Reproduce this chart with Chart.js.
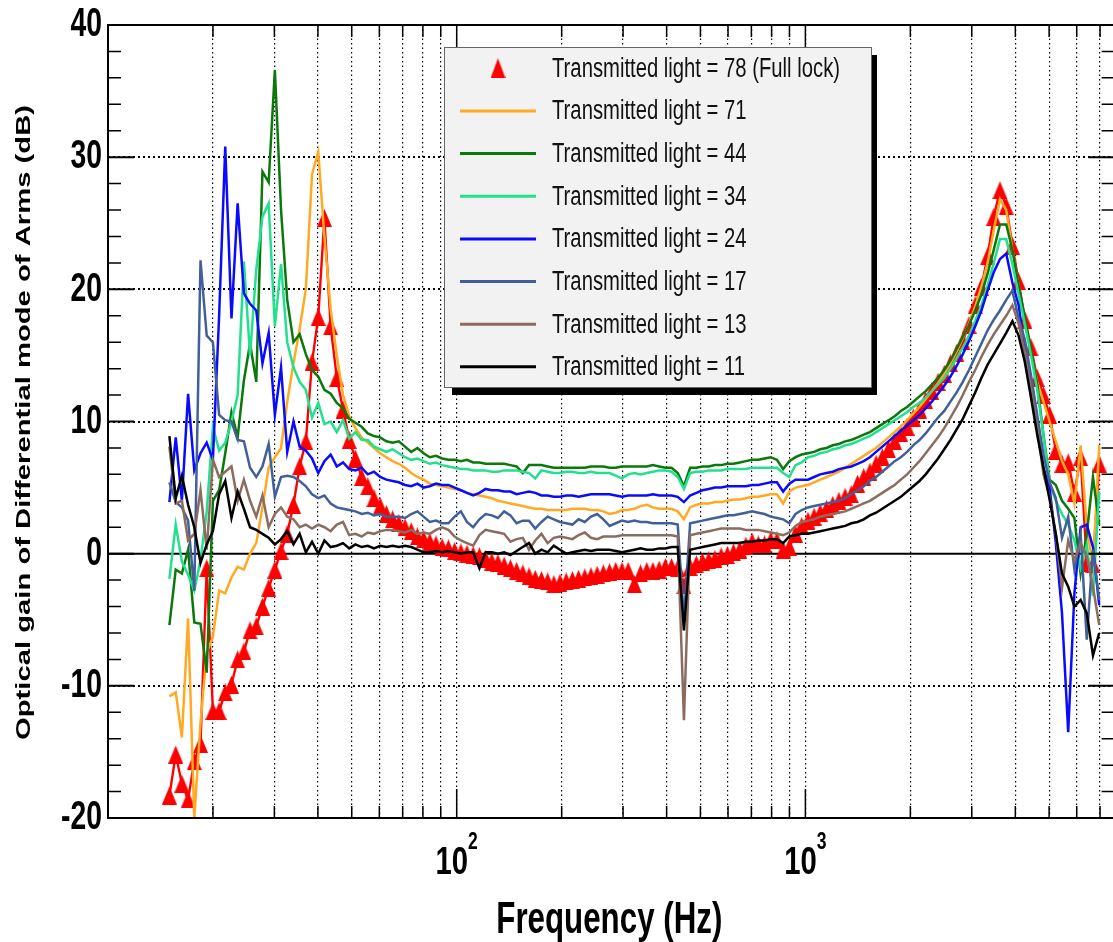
<!DOCTYPE html>
<html>
<head>
<meta charset="utf-8">
<script src="https://cdn.jsdelivr.net/npm/chart.js@4.4.1/dist/chart.umd.min.js"></script>
<style>
  html, body { margin: 0; padding: 0; background: #fff; overflow: hidden; }
  canvas { display: block; }
</style>
</head>
<body>
<canvas id="gainChart" width="1125" height="942"></canvas>
<script>
// measurement frequencies (Hz)
const freqHz = [
  15.0, 15.64, 16.29, 16.97, 17.68, 18.42, 19.19, 19.99, 20.83, 21.69,
  22.60, 23.54, 24.53, 25.55, 26.62, 27.73, 28.89, 30.10, 31.35, 32.66,
  34.03, 35.45, 36.93, 38.47, 40.08, 41.75, 43.50, 45.31, 47.21, 49.18,
  51.23, 53.37, 55.60, 57.92, 60.34, 62.86, 65.49, 68.23, 71.10, 74.07,
  77.15, 80.36, 83.72, 87.21, 90.86, 94.67, 98.63, 102.8, 107.0, 111.5,
  116.2, 121.0, 126.1, 131.3, 136.8, 142.6, 148.5, 154.7, 161.2, 168.0,
  175.0, 182.3, 189.9, 197.8, 206.1, 214.7, 223.6, 233.0, 242.7, 252.8,
  263.4, 274.4, 285.8, 297.8, 310.2, 323.2, 336.7, 350.8, 365.4, 380.7,
  396.6, 413.2, 430.4, 448.4, 467.1, 486.7, 507.0, 528.2, 550.3, 573.3,
  597.2, 622.2, 648.2, 675.3, 703.5, 732.9, 763.5, 795.4, 828.7, 863.3,
  899.4, 937.0, 976.1, 1017, 1059, 1103, 1150, 1198, 1248, 1300,
  1354, 1411, 1470, 1531, 1595, 1662, 1731, 1803, 1878, 1957,
  2039, 2124, 2213, 2305, 2401, 2502, 2606, 2715, 2828, 2946,
  3069, 3198, 3331, 3470, 3615, 3767, 3924, 4088, 4259, 4437,
  4622, 4815, 5016, 5226, 5444, 5672, 5909, 6156, 6412, 6680,
  6960
];

// optical gain (dB) for each transmitted light level
const gain78 = [
  -18.3, -15.2, -17.4, -18.6, -15.7, -14.4, -1.1, -11.9, -11.9, -10.5,
  -9.9, -8.0, -7.4, -5.8, -5.5, -4.0, -2.6, -1.2, 0.2, 1.5,
  3.7, 6.6, 8.5, 14.5, 17.9, 25.4, 17.2, 13.3, 10.9, 8.6,
  7.2, 5.8, 5.1, 4.2, 3.6, 3.0, 2.6, 2.3, 2.0, 1.7,
  1.3, 1.1, 0.9, 0.7, 0.5, 0.4, 0.2, 0.1, 0.0, -0.1,
  -0.2, -0.4, -0.6, -0.7, -0.9, -1.1, -1.3, -1.5, -1.7, -1.9,
  -2.0, -2.1, -2.3, -2.2, -2.1, -2.0, -1.9, -1.8, -1.7, -1.6,
  -1.5, -1.4, -1.3, -1.3, -1.3, -2.3, -1.5, -1.3, -1.3, -1.2,
  -1.0, -1.0, -1.1, -2.4, -1.0, -0.8, -0.6, -0.5, -0.4, -0.2,
  -0.1, 0.1, 0.3, 0.6, 0.9, 0.7, 0.7, 1.0, 1.0, 0.3,
  0.5, 1.5, 2.1, 2.5, 2.8, 3.1, 3.4, 3.7, 4.0, 4.3,
  4.5, 5.3, 5.8, 6.2, 6.8, 7.3, 7.9, 8.5, 9.1, 9.6,
  10.3, 10.9, 11.6, 12.3, 13.0, 13.6, 14.4, 15.2, 16.1, 17.3,
  18.8, 20.2, 22.5, 25.5, 27.5, 26.3, 23.3, 20.6, 17.7, 15.6,
  13.3, 12.0, 10.5, 7.8, 6.8, 6.9, 4.6, 7.3, -0.7, -0.8,
  6.8
];
const gain71 = [
  -10.8, -10.5, -13.9, -4.9, -20.0, -12.8, -7.5, -6.3, -2.8, -3.0,
  -1.8, -1.0, -1.2, 0.0, 0.8, 3.5, 6.5, 7.3, 8.0, 11.5,
  14.4, 17.0, 20.0, 28.7, 30.4, 24.0, 18.5, 15.0, 12.0, 10.4,
  9.5, 8.8, 8.4, 8.0, 7.6, 7.3, 7.0, 6.8, 6.5, 6.1,
  5.8, 5.6, 5.3, 5.2, 5.1, 5.0, 4.9, 4.8, 4.6, 4.5,
  4.4, 4.3, 4.2, 4.0, 3.9, 3.8, 3.7, 3.6, 3.5, 3.4,
  3.4, 3.3, 3.3, 3.3, 3.3, 3.4, 3.4, 3.4, 3.3, 3.3,
  3.2, 3.0, 3.1, 3.3, 3.3, 3.4, 3.6, 3.7, 3.5, 3.4,
  3.4, 3.4, 3.2, 2.6, 3.5, 3.7, 3.8, 3.8, 3.9, 3.9,
  4.0, 4.1, 4.1, 4.2, 4.3, 4.3, 4.4, 4.5, 4.5, 3.8,
  4.7, 5.0, 5.1, 5.2, 5.4, 5.6, 5.8, 6.0, 6.2, 6.5,
  6.8, 7.1, 7.4, 7.7, 8.0, 8.4, 8.8, 9.2, 9.6, 10.1,
  10.6, 11.1, 11.7, 12.3, 12.9, 13.6, 14.4, 15.3, 16.3, 17.4,
  18.7, 20.2, 22.0, 24.5, 26.8, 26.0, 23.0, 20.2, 17.4, 15.2,
  13.0, 11.5, 10.0, 8.5, 7.0, 6.0, 3.8, 8.2, 2.0, -1.0,
  8.2
];
const gain44 = [
  -5.4, -1.2, -1.5, 0.3, -5.2, -5.3, -9.0, 4.0, 4.8, 7.6,
  10.7, 8.8, 13.1, 15.9, 13.0, 28.9, 28.1, 36.6, 26.0, 19.2,
  16.0, 16.6, 15.1, 13.9, 13.4, 12.4, 12.1, 11.4, 11.0, 10.2,
  9.9, 9.6, 9.1, 8.9, 8.8, 8.5, 8.4, 8.5, 8.1, 7.7,
  8.0, 7.6, 7.3, 7.4, 7.2, 7.1, 7.1, 7.0, 7.1, 6.9,
  6.9, 6.8, 6.8, 6.8, 6.8, 6.7, 6.6, 6.1, 6.7, 6.7,
  6.7, 6.6, 6.5, 6.5, 6.5, 6.5, 6.5, 6.5, 6.6, 6.6,
  6.6, 6.5, 6.5, 6.6, 6.6, 6.6, 6.6, 6.6, 6.7, 6.6,
  6.5, 6.5, 6.1, 5.1, 6.5, 6.5, 6.6, 6.6, 6.7, 6.7,
  6.8, 6.8, 6.9, 7.0, 7.1, 7.1, 7.2, 7.3, 7.1, 6.4,
  7.0, 7.3, 7.5, 7.6, 7.7, 7.9, 8.0, 8.2, 8.3, 8.5,
  8.6, 8.8, 9.0, 9.2, 9.5, 9.8, 10.1, 10.4, 10.8, 11.1,
  11.5, 11.9, 12.3, 12.8, 13.3, 13.9, 14.6, 15.5, 16.4, 17.3,
  18.4, 19.6, 21.2, 23.0, 24.9, 24.9, 23.0, 20.3, 17.9, 15.4,
  12.9, 9.0, 5.6, 5.2, 4.0, 3.4, 2.7, -1.5, 1.5, 5.8,
  2.2
];
const gain34 = [
  -1.9, 2.2, -0.6, -1.6, -2.8, -0.5, 3.2, 9.6, 7.8, 8.4,
  10.0, 12.0, 22.1, 15.0, 21.5, 25.5, 26.5, 17.2, 21.9, 16.0,
  14.1, 13.0, 12.4, 10.3, 11.4, 9.8, 10.0, 9.2, 10.1, 8.7,
  9.2, 8.6, 8.6, 8.1, 7.9, 7.7, 7.9, 7.6, 7.3, 7.1,
  7.2, 7.0, 6.8, 6.9, 6.7, 6.6, 6.5, 6.4, 6.4, 6.3,
  6.3, 6.3, 6.2, 6.2, 6.3, 6.3, 6.3, 6.2, 6.1, 5.7,
  6.3, 6.2, 6.1, 6.1, 6.2, 6.2, 6.1, 6.1, 6.2, 6.1,
  6.1, 6.1, 5.9, 5.7, 6.0, 6.1, 6.0, 6.1, 6.2, 6.3,
  6.3, 6.2, 5.8, 4.9, 6.1, 6.2, 6.2, 6.3, 6.3, 6.3,
  6.4, 6.4, 6.4, 6.4, 6.5, 6.5, 6.5, 6.5, 6.5, 6.1,
  5.8, 6.7, 6.9, 7.3, 7.4, 7.6, 7.7, 7.9, 8.0, 8.2,
  8.3, 8.5, 8.7, 8.9, 9.2, 9.5, 9.8, 10.1, 10.4, 10.7,
  11.1, 11.4, 11.8, 12.3, 12.8, 13.3, 14.0, 14.8, 15.6, 16.5,
  17.6, 18.8, 20.3, 22.0, 23.8, 23.8, 21.9, 19.6, 17.4, 15.0,
  12.4, 9.0, 5.3, 4.0, 3.0, 2.2, 1.0, -1.1, 0.7, -3.2,
  4.7
];
const gain24 = [
  3.9, 8.8, 4.0, 12.1, 6.3, 7.6, 8.4, 7.1, 18.0, 30.8,
  17.8, 26.5, 19.7, 18.9, 18.4, 14.4, 16.7, 10.5, 14.1, 7.7,
  10.0, 8.1, 7.8, 7.2, 6.1, 7.0, 7.5, 6.6, 6.9, 6.4,
  6.3, 6.5, 6.0, 6.2, 5.8, 5.6, 5.5, 5.4, 5.2, 5.1,
  5.3, 5.0, 5.1, 5.3, 5.2, 5.2, 5.0, 4.8, 4.6, 4.4,
  4.6, 4.9, 4.8, 4.8, 4.7, 4.7, 4.5, 4.6, 4.7, 4.6,
  4.4, 4.4, 4.3, 4.3, 4.4, 4.4, 4.3, 4.4, 4.5, 4.5,
  4.5, 4.5, 4.4, 4.3, 4.4, 4.4, 4.4, 4.4, 4.5, 4.4,
  4.4, 4.4, 4.3, 3.9, 4.4, 4.6, 4.8, 4.9, 5.0, 5.0,
  5.1, 5.1, 5.1, 5.1, 5.2, 5.2, 5.3, 5.4, 5.4, 4.7,
  5.3, 5.6, 5.6, 5.6, 5.8, 6.0, 6.1, 6.2, 6.4, 6.5,
  6.6, 6.8, 7.0, 7.3, 7.7, 8.1, 8.5, 8.9, 9.3, 9.7,
  10.1, 10.5, 11.0, 11.5, 12.1, 12.7, 13.4, 14.2, 15.1, 16.1,
  17.2, 18.4, 19.9, 21.3, 22.3, 22.7, 20.5, 18.8, 15.5, 12.8,
  9.8, 6.5, 5.0, 0.8, -4.5, -13.5, -3.0, 2.0, 2.2, 0.5,
  -3.9
];
const gain17 = [
  5.4, 3.9, 3.5, 2.5, -2.8, 22.2, 16.5, 16.0, 10.5, 10.1,
  10.0, 8.6, 8.5, 6.5, 5.8, 6.6, 8.3, 4.3, 5.8, 5.9,
  5.8, 5.5, 5.1, 4.5, 4.2, 4.4, 3.8, 3.5, 3.4, 3.3,
  3.2, 3.0, 3.1, 2.9, 3.0, 2.8, 2.8, 2.8, 2.7, 3.0,
  3.2, 2.8, 2.4, 2.5, 2.3, 2.3, 2.8, 3.2, 2.4, 2.0,
  2.6, 3.0, 2.9, 2.7, 3.2, 2.9, 2.3, 2.5, 2.5, 1.9,
  2.4, 2.8, 2.6, 2.4, 2.3, 2.2, 2.6, 2.4, 2.8, 3.0,
  2.6, 2.1, 2.3, 2.5, 2.4, 2.5, 2.4, 2.4, 2.3, 2.3,
  2.3, 2.3, 2.2, -5.0, 2.3, 2.4, 2.5, 2.6, 2.7, 2.8,
  2.9, 2.9, 3.0, 3.1, 3.2, 3.1, 3.0, 2.8, 2.7, 2.6,
  2.3, 3.0, 3.3, 3.5, 3.6, 3.7, 3.8, 3.9, 4.0, 4.2,
  4.5, 4.8, 5.1, 5.5, 5.8, 6.2, 6.6, 7.0, 7.3, 7.7,
  8.2, 8.6, 9.1, 9.7, 10.3, 10.8, 11.5, 12.2, 13.0, 13.9,
  14.9, 15.9, 16.9, 17.7, 18.4, 19.2, 19.9, 17.8, 16.2, 13.5,
  10.5, 7.5, 5.4, 4.2, 1.2, 2.8, -1.2, 1.5, -6.5, 0.3,
  -3.5
];
const gain13 = [
  8.1, 3.8, 4.0, 1.0, 1.5, 4.8, 0.3, 7.1, 5.8, 6.2,
  6.6, 4.0, 5.6, 4.0, 2.8, 4.4, 2.0, 3.0, 3.5, 2.8,
  2.6, 2.0, 2.2, 1.9, 2.2, 2.0, 1.7, 2.2, 2.4, 1.4,
  1.5, 1.3, 1.6, 1.5, 1.7, 1.8, 1.8, 1.7, 1.6, 1.8,
  1.5, 1.6, 1.5, 1.8, 2.0, 1.8, 1.3, 1.0, 0.8, 0.6,
  1.4, 1.8, 1.7, 1.6, 1.5, 0.9, 1.1, 1.2, 0.3, 1.0,
  1.5, 0.8, 1.2, 1.3, 1.2, 1.1, 1.4, 1.6, 1.2, 1.1,
  1.3, 1.3, 1.3, 1.4, 1.4, 1.4, 1.4, 1.4, 1.4, 1.4,
  1.4, 1.4, 1.3, -12.6, 1.4, 1.5, 1.6, 1.7, 1.8, 1.9,
  1.9, 1.9, 1.9, 1.8, 1.8, 1.8, 1.7, 1.6, 1.5, 1.4,
  1.6, 2.1, 2.4, 2.5, 2.6, 2.8, 2.9, 3.0, 3.1, 3.2,
  3.4, 3.6, 3.8, 4.0, 4.3, 4.6, 4.9, 5.2, 5.6, 6.0,
  6.5, 7.0, 7.6, 8.2, 8.8, 9.5, 10.3, 11.1, 12.0, 13.0,
  13.9, 14.9, 15.8, 16.6, 17.3, 18.0, 18.8, 17.4, 15.2, 12.5,
  9.6, 6.0, 4.3, 1.5, -2.6, 1.0, -0.5, 0.8, -0.2, -2.5,
  -5.4
];
const gain11 = [
  8.9, 4.2, 5.9, 3.7, 2.0, -0.7, 0.7, 1.7, 4.5, 5.5,
  2.7, 4.7, 3.4, 2.0, 1.8, 1.5, 1.2, 0.7, 1.1, 1.7,
  0.7, 1.5, 0.1, 0.9, 0.0, 1.0, 0.5, 0.6, 0.8, 0.4,
  0.7, 0.5, 0.6, 0.4, 0.6, 0.5, 0.6, 0.5, 0.6, 0.5,
  0.3, 0.1, 0.1, 0.2, 0.1, 0.2, 0.1, 0.0, 0.1, 0.1,
  -1.1, 0.1, 0.1, 0.0, 0.1, -0.1, 0.2, 0.5, 0.8, 0.0,
  0.3, 0.1, 0.6, 0.3, 0.0, 0.1, 0.2, 0.3, 0.2, 0.3,
  0.3, 0.3, 0.2, 0.1, 0.2, 0.3, 0.4, 0.3, 0.3, 0.4,
  0.4, 0.5, 0.5, -5.8, 0.3, 0.4, 0.5, 0.6, 0.7, 0.8,
  0.8, 0.8, 0.8, 0.9, 0.9, 1.0, 1.0, 1.1, 1.1, 0.8,
  1.3, 1.4, 1.5, 1.5, 1.6, 1.7, 1.8, 1.9, 2.0, 2.1,
  2.3, 2.4, 2.6, 2.9, 3.1, 3.4, 3.7, 4.0, 4.3, 4.7,
  5.1, 5.5, 6.0, 6.6, 7.2, 7.9, 8.6, 9.4, 10.2, 11.2,
  12.2, 13.3, 14.3, 15.1, 15.9, 16.7, 17.6, 16.5, 14.5, 11.8,
  9.0, 6.5, 4.1, 1.5, -1.5, -2.5, -4.0, -3.5, -4.5, -7.7,
  -6.0
];

const seriesLabels = [
  'Transmitted light = 78 (Full lock)',
  'Transmitted light = 71',
  'Transmitted light = 44',
  'Transmitted light = 34',
  'Transmitted light = 24',
  'Transmitted light = 17',
  'Transmitted light = 13',
  'Transmitted light = 11'
];
const seriesValues = [gain78, gain71, gain44, gain34, gain24, gain17, gain13, gain11];
const seriesColors = ['#ff0000', '#ffaa22', '#0b780b', '#22e08e', '#0a0aff', '#41609a', '#8b6d5f', '#000000'];

// axis ticks
const yTickLabels = [40, 30, 20, 10, 0, -10, -20];
const yGridTicks = [-10, 10, 20, 30];
const xGridTicks = [20, 30, 40, 50, 60, 70, 80, 90, 100, 200, 300, 400, 500, 600, 700, 800, 900,
                    1000, 2000, 3000, 4000, 5000, 6000, 7000];
const xLabelTicks = [100, 1000];
const xLabelExponents = ['2', '3'];

const FONT = '"Liberation Sans", Arial, Helvetica, sans-serif';

function triangleMarker(w, h, color) {
  const c = document.createElement('canvas');
  c.width = w;
  c.height = h;
  const g = c.getContext('2d');
  g.fillStyle = color;
  g.beginPath();
  g.moveTo(w / 2, 0);
  g.lineTo(w, h);
  g.lineTo(0, h);
  g.closePath();
  g.fill();
  return c;
}
const plotTriangle = triangleMarker(15, 18, '#ff0000');
const legendTriangle = triangleMarker(15, 20, '#ff0000');

// text squeezed horizontally, like the original stretched figure
function squeezedText(ctx, text, x, y, font, sx, align, baseline) {
  ctx.save();
  ctx.font = font;
  ctx.textAlign = align;
  ctx.textBaseline = baseline;
  ctx.translate(x, y);
  ctx.scale(sx, 1);
  ctx.fillText(text, 0, 0);
  ctx.restore();
}

const datasets = seriesValues.map((vals, i) => ({
  label: seriesLabels[i],
  data: freqHz.map((f, k) => ({ x: f, y: vals[k] })),
  borderColor: seriesColors[i],
  backgroundColor: seriesColors[i],
  borderWidth: i === 0 ? 2.4 : 2.5,
  pointRadius: i === 0 ? 8 : 0,
  pointStyle: i === 0 ? plotTriangle : 'circle',
  tension: 0,
  order: seriesValues.length - i
}));

const frameTicks = {
  id: 'frameTicks',
  beforeDatasetsDraw(chart) {
    const { ctx, chartArea: a, scales: { y } } = chart;
    const y0 = y.getPixelForValue(0);
    ctx.save();
    ctx.strokeStyle = '#000';
    ctx.lineWidth = 2;
    ctx.beginPath();
    ctx.moveTo(a.left, y0);
    ctx.lineTo(a.right, y0);
    ctx.stroke();
    ctx.restore();
  },
  afterDatasetsDraw(chart) {
    const { ctx, chartArea: a, scales: { x, y } } = chart;
    ctx.save();
    ctx.strokeStyle = '#000';
    for (let v = -20; v <= 40; v += 2) {
      const py = y.getPixelForValue(v);
      const major = v % 10 === 0;
      const len = major ? 26 : 13;
      ctx.lineWidth = major ? 2 : 1.5;
      ctx.beginPath();
      ctx.moveTo(a.left, py);
      ctx.lineTo(a.left + len, py);
      ctx.moveTo(a.right, py);
      ctx.lineTo(a.right - len, py);
      ctx.stroke();
    }
    for (const v of xGridTicks) {
      const px = x.getPixelForValue(v);
      const len = xLabelTicks.includes(v) ? 29 : 12;
      ctx.lineWidth = 1.5;
      ctx.beginPath();
      ctx.moveTo(px, a.bottom);
      ctx.lineTo(px, a.bottom - len);
      ctx.moveTo(px, a.top);
      ctx.lineTo(px, a.top + len);
      ctx.stroke();
    }
    ctx.lineWidth = 2;
    ctx.strokeRect(a.left, a.top, a.right - a.left, a.bottom - a.top);
    ctx.restore();
  }
};

const boxLegend = {
  id: 'boxLegend',
  afterDatasetsDraw(chart) {
    const ctx = chart.ctx;
    const bx = 444, by = 47, bw = 428, bh = 341;
    ctx.save();
    ctx.fillStyle = '#000';
    ctx.fillRect(bx + 8, by + 8, bw - 3, bh - 1);
    ctx.fillStyle = '#f2f2f2';
    ctx.fillRect(bx, by, bw, bh);
    ctx.strokeStyle = '#666';
    ctx.lineWidth = 1;
    ctx.strokeRect(bx + 0.5, by + 0.5, bw - 1, bh - 1);
    const font = '27px ' + FONT;
    ctx.font = font;
    const sx = 288 / ctx.measureText(seriesLabels[0]).width;
    chart.data.datasets.forEach((ds, i) => {
      const cy = 68.3 + 42.65 * i;
      if (i === 0) {
        ctx.drawImage(legendTriangle, 498 - legendTriangle.width / 2, cy - legendTriangle.height / 2);
      } else {
        ctx.strokeStyle = ds.borderColor;
        ctx.lineWidth = 3;
        ctx.beginPath();
        ctx.moveTo(460, cy);
        ctx.lineTo(536, cy);
        ctx.stroke();
      }
      ctx.fillStyle = '#111';
      squeezedText(ctx, ds.label, 552, cy + 8.5, font, sx, 'left', 'alphabetic');
    });
    ctx.restore();
  }
};

const axisText = {
  id: 'axisText',
  afterDraw(chart) {
    const { ctx, chartArea: a, scales: { x, y } } = chart;
    ctx.save();
    ctx.fillStyle = '#000';
    for (const v of yTickLabels) {
      squeezedText(ctx, String(v), a.left - 6, y.getPixelForValue(v), 'bold 41px ' + FONT, 0.69, 'right', 'middle');
    }
    xLabelTicks.forEach((v, i) => {
      const px = x.getPixelForValue(v);
      ctx.font = 'bold 39px ' + FONT;
      const w1 = ctx.measureText('10').width * 0.75;
      ctx.font = 'bold 24px ' + FONT;
      const w2 = ctx.measureText(xLabelExponents[i]).width * 0.73;
      const left = px - (w1 + w2) / 2;
      squeezedText(ctx, '10', left, 874, 'bold 39px ' + FONT, 0.75, 'left', 'alphabetic');
      squeezedText(ctx, xLabelExponents[i], left + w1, 849, 'bold 24px ' + FONT, 0.73, 'left', 'alphabetic');
    });
    // x title
    const xt = 'Frequency (Hz)';
    ctx.font = 'bold 44px ' + FONT;
    const sxt = 226 / ctx.measureText(xt).width;
    squeezedText(ctx, xt, (a.left + a.right) / 2 - 2, 933, 'bold 44px ' + FONT, sxt, 'center', 'alphabetic');
    // y title
    const yt = 'Optical gain of Differential mode of Arms (dB)';
    ctx.font = 'bold 21px ' + FONT;
    const syt = 635 / ctx.measureText(yt).width;
    ctx.translate(29.5, (a.top + a.bottom) / 2 + 1);
    ctx.rotate(-Math.PI / 2);
    ctx.scale(syt, 1);
    ctx.textAlign = 'center';
    ctx.textBaseline = 'alphabetic';
    ctx.fillText(yt, 0, 0);
    ctx.restore();
  }
};

const gainChart = new Chart(document.getElementById('gainChart'), {
  type: 'line',
  data: { datasets: datasets },
  options: {
    responsive: false,
    animation: false,
    devicePixelRatio: 1,
    layout: { padding: { top: 25, right: 2, left: 0, bottom: 0 } },
    plugins: {
      legend: { display: false },
      tooltip: { enabled: false }
    },
    scales: {
      x: {
        type: 'logarithmic',
        position: 'bottom',
        min: 10,
        max: 7705,
        afterBuildTicks: s => { s.ticks = xGridTicks.map(v => ({ value: v })); },
        afterFit: s => { s.height = 124; },
        grid: { color: '#000', lineWidth: 1.2, drawTicks: false },
        border: { display: false, dash: [1.5, 3] },
        ticks: { display: false }
      },
      y: {
        type: 'linear',
        min: -20,
        max: 40,
        afterBuildTicks: s => { s.ticks = yGridTicks.map(v => ({ value: v })); },
        afterFit: s => { s.width = 108; },
        grid: { color: '#000', lineWidth: 2, drawTicks: false },
        border: { display: false, dash: [2, 3] },
        ticks: { display: false }
      }
    }
  },
  plugins: [frameTicks, boxLegend, axisText]
});
</script>
</body>
</html>
